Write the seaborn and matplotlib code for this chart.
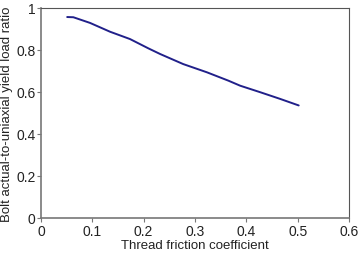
import pandas as pd
import seaborn as sns
import matplotlib.pyplot as plt

# values
friction = [0.051, 0.063, 0.0955, 0.1345, 0.1735, 0.209, 0.232, 0.277,
            0.323, 0.365, 0.388, 0.427, 0.466, 0.502]
load_ratio = [0.957, 0.956, 0.929, 0.887, 0.852, 0.808, 0.781, 0.733,
              0.694, 0.654, 0.630, 0.599, 0.567, 0.536]
x_ticks = [0, 0.1, 0.2, 0.3, 0.4, 0.5, 0.6]
y_ticks = [0, 0.2, 0.4, 0.6, 0.8, 1]

df = pd.DataFrame({"mu": friction, "ratio": load_ratio})

sns.set_theme(style="ticks")
plt.rcParams["font.family"] = ["Liberation Sans", "DejaVu Sans"]

fig, ax = plt.subplots(figsize=(3.6, 2.55), dpi=100)
fig.subplots_adjust(left=41 / 360, right=349 / 360, top=1 - 9 / 255, bottom=1 - 219 / 255)

sns.lineplot(data=df, x="mu", y="ratio", ax=ax, color="#21208a", linewidth=1.4)

ax.set_xlim(0, 0.6)
ax.set_ylim(0, 1)
ax.set_xticks(x_ticks)
ax.set_xticklabels(["0", "0.1", "0.2", "0.3", "0.4", "0.5", "0.6"])
ax.set_yticks(y_ticks)
ax.set_yticklabels(["0", "0.2", "0.4", "0.6", "0.8", "1"])
ax.set_xlabel("Thread friction coefficient", fontsize=9.5, color="#222222", labelpad=1)
ax.set_ylabel("Bolt actual-to-uniaxial yield load ratio", fontsize=9.5, color="#222222", labelpad=2)
ax.tick_params(labelsize=10, length=3, width=0.8, color="#777777", labelcolor="#222222", pad=1)
for side in ["top", "right"]:
    ax.spines[side].set_visible(True)
    ax.spines[side].set_color("#555555")
    ax.spines[side].set_linewidth(0.8)
for side in ["left", "bottom"]:
    ax.spines[side].set_color("#777777")
    ax.spines[side].set_linewidth(1.2)

fig.savefig("out.png", dpi=100)
